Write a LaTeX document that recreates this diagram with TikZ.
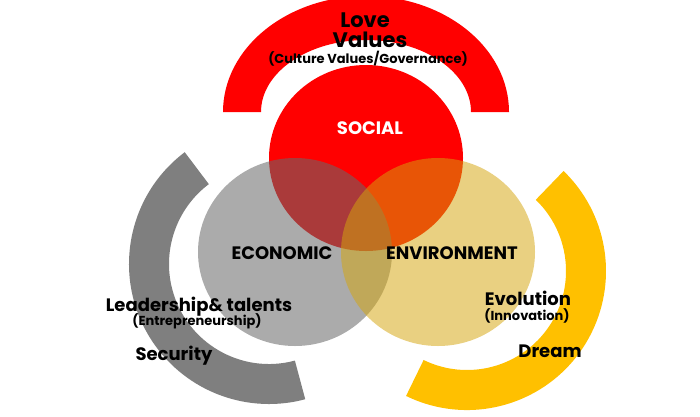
\documentclass[tikz,border=0pt]{standalone}
\usepackage{fontspec}
\setmainfont{Poppins}
\definecolor{redc}{RGB}{255,0,0}
\definecolor{grayarc}{RGB}{127,127,127}
\definecolor{yellowarc}{RGB}{255,192,0}
\definecolor{econc}{RGB}{105,105,105}
\definecolor{envc}{RGB}{212,164,13}
\tikzset{
  lbl/.style={font=\bfseries\fontsize{18}{20}\selectfont, text=black, anchor=base, inner sep=0pt},
  small/.style={font=\bfseries\fontsize{13}{15}\selectfont, text=black, anchor=base, inner sep=0pt},
  big/.style={font=\bfseries\fontsize{21}{23}\selectfont, text=black, anchor=base, inner sep=0pt},
}
\begin{document}
\begin{tikzpicture}[x=1pt,y=-1pt]
\useasboundingbox (0,0) rectangle (700,416);
% outer arcs
\fill[redc] (223,112) arc[start angle=-180, end angle=0, x radius=143, y radius=116]
  -- (471,112) arc[start angle=0, end angle=-180, x radius=105, y radius=72] -- cycle;
\fill[grayarc] ([shift={(-127:140)}]269,264) arc[start angle=-127, end angle=-285, radius=140]
  -- ([shift={(-285:100)}]269,264) arc[start angle=-285, end angle=-127, radius=100] -- cycle;
\fill[yellowarc] ([shift={(116:139)}]467,271) arc[start angle=116, end angle=-46, radius=139]
  -- ([shift={(-46:99)}]467,271) arc[start angle=-46, end angle=116, radius=99] -- cycle;
% circles
\fill[redc] (366,158) ellipse[x radius=97, y radius=93];
\fill[econc, fill opacity=0.56] (295,252) ellipse[x radius=97, y radius=94];
\fill[envc, fill opacity=0.52] (438,252) ellipse[x radius=97, y radius=94];
% texts
\node[big] (love) at (365,27) {Love};
\node[big] (values) at (370,47) {Values};
\node[small] (culture) at (368,63) {(Culture Values/Governance)};
\node[lbl, text=white] (social) at (370,134) {SOCIAL};
\node[lbl] (economic) at (282,259) {ECONOMIC};
\node[lbl] (environment) at (452,259) {ENVIRONMENT};
\node[lbl] (leader) at (199,311) {Leadership\& talents};
\node[small] (entre) at (197,325) {(Entrepreneurship)};
\node[lbl] (security) at (174,360) {Security};
\node[lbl] (evolution) at (528,305) {Evolution};
\node[small] (innov) at (527,320) {(Innovation)};
\node[lbl] (dream) at (550,357) {Dream};
\end{tikzpicture}
\end{document}
